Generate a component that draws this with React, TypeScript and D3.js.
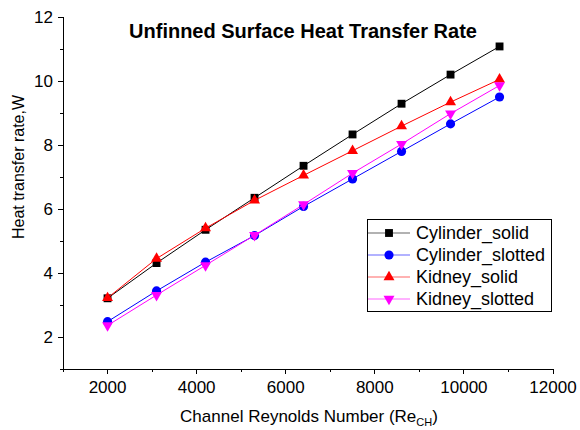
import React from "react";
import * as d3 from "d3";

// Channel Reynolds number (x) and heat transfer rate in W for each case
const reynolds = [2000, 3100, 4200, 5300, 6400, 7500, 8600, 9700, 10800];
const cylinderSolid = [3.21, 4.31, 5.35, 6.35, 7.35, 8.33, 9.29, 10.2, 11.08];
const cylinderSlotted = [2.48, 3.44, 4.34, 5.17, 6.08, 6.94, 7.8, 8.66, 9.5];
const kidneySolid = [3.22, 4.45, 5.4, 6.27, 7.05, 7.82, 8.59, 9.34, 10.05];
const kidneySlotted = [2.36, 3.31, 4.24, 5.18, 6.14, 7.12, 8.03, 8.98, 9.86];

const xMajor = [2000, 4000, 6000, 8000, 10000, 12000];
const xMinor = [1000, 3000, 5000, 7000, 9000, 11000];
const yMajor = [2, 4, 6, 8, 10, 12];
const yMinor = [1, 3, 5, 7, 9, 11];

const series = [
  { name: "Cylinder_solid", values: cylinderSolid, color: "#000000", symbol: "square" },
  { name: "Cylinder_slotted", values: cylinderSlotted, color: "#0000ff", symbol: "circle" },
  { name: "Kidney_solid", values: kidneySolid, color: "#ff0000", symbol: "up" },
  { name: "Kidney_slotted", values: kidneySlotted, color: "#ff00ff", symbol: "down" },
];

const W = 580;
const H = 430;
const margin = { top: 17, right: 27, bottom: 61, left: 63 };
const font = "'Liberation Sans', Arial, sans-serif";

const Marker = ({ kind, x, y, color }: { kind: string; x: number; y: number; color: string }) => {
  let path = "";
  let rot = 0;
  if (kind === "square") path = d3.symbol(d3.symbolSquare, 62)()!;
  else if (kind === "circle") path = d3.symbol(d3.symbolCircle, 66)()!;
  else {
    path = d3.symbol(d3.symbolTriangle, 52)()!;
    if (kind === "down") rot = 180;
  }
  return <path d={path} transform={`translate(${x},${y}) rotate(${rot})`} fill={color} />;
};

export default function App() {
  const x = d3.scaleLinear().domain([1000, 12000]).range([margin.left, W - margin.right]);
  const y = d3.scaleLinear().domain([1, 12]).range([H - margin.bottom, margin.top]);
  const line = d3
    .line<number>()
    .x((_, i) => x(reynolds[i]))
    .y((d) => y(d));

  const x0 = x.range()[0];
  const y0 = y.range()[0];

  return (
    <svg
      width={W}
      height={H}
      style={{ position: "absolute", left: 0, top: 0, background: "#fff" }}
      fontFamily={font}
    >
      {/* title */}
      <text x={303} y={38} textAnchor="middle" fontSize={20} fontWeight="bold">
        Unfinned Surface Heat Transfer Rate
      </text>

      {/* axes */}
      <g stroke="#000" strokeWidth={1} shapeRendering="crispEdges">
        <line x1={x0} x2={x(12000)} y1={y0} y2={y0} />
        <line x1={x0} x2={x0} y1={y0} y2={y(12)} />
        {xMajor.map((t) => (
          <line key={"xM" + t} x1={x(t)} x2={x(t)} y1={y0} y2={y0 + 5} />
        ))}
        {xMinor.map((t) => (
          <line key={"xm" + t} x1={x(t)} x2={x(t)} y1={y0} y2={y0 + 3} />
        ))}
        {yMajor.map((t) => (
          <line key={"yM" + t} x1={x0 - 5} x2={x0} y1={y(t)} y2={y(t)} />
        ))}
        {yMinor.map((t) => (
          <line key={"ym" + t} x1={x0 - 3} x2={x0} y1={y(t)} y2={y(t)} />
        ))}
      </g>
      <g fontSize={17}>
        {xMajor.map((t) => (
          <text key={"xl" + t} x={x(t)} y={y0 + 24} textAnchor="middle">
            {t}
          </text>
        ))}
        {yMajor.map((t) => (
          <text key={"yl" + t} x={x0 - 10} y={y(t) + 6} textAnchor="end">
            {t}
          </text>
        ))}
      </g>

      {/* axis titles */}
      <text x={309} y={422} textAnchor="middle" fontSize={17}>
        Channel Reynolds Number (Re
        <tspan fontSize={11} dy={4}>CH</tspan>
        <tspan dy={-4}>)</tspan>
      </text>
      <text transform="translate(24,167) rotate(-90)" textAnchor="middle" fontSize={16}>
        Heat transfer rate,W
      </text>

      {/* series */}
      {series.map((s) => (
        <g key={s.name}>
          <path d={line(s.values)!} fill="none" stroke={s.color} strokeWidth={1} />
          {s.values.map((v, i) => (
            <Marker key={i} kind={s.symbol} x={x(reynolds[i])} y={y(v)} color={s.color} />
          ))}
        </g>
      ))}

      {/* legend */}
      <g>
        <rect x={367.5} y={219.5} width={184} height={92} fill="#fff" stroke="#000" strokeWidth={1} />
        {series.map((s, i) => {
          const ly = 233 + i * 22;
          return (
            <g key={s.name}>
              <line x1={368} x2={410} y1={ly} y2={ly} stroke={s.color} strokeWidth={1} opacity={0.6} />
              <Marker kind={s.symbol} x={389} y={ly} color={s.color} />
              <text x={416} y={ly + 6} fontSize={18}>
                {s.name}
              </text>
            </g>
          );
        })}
      </g>
    </svg>
  );
}
